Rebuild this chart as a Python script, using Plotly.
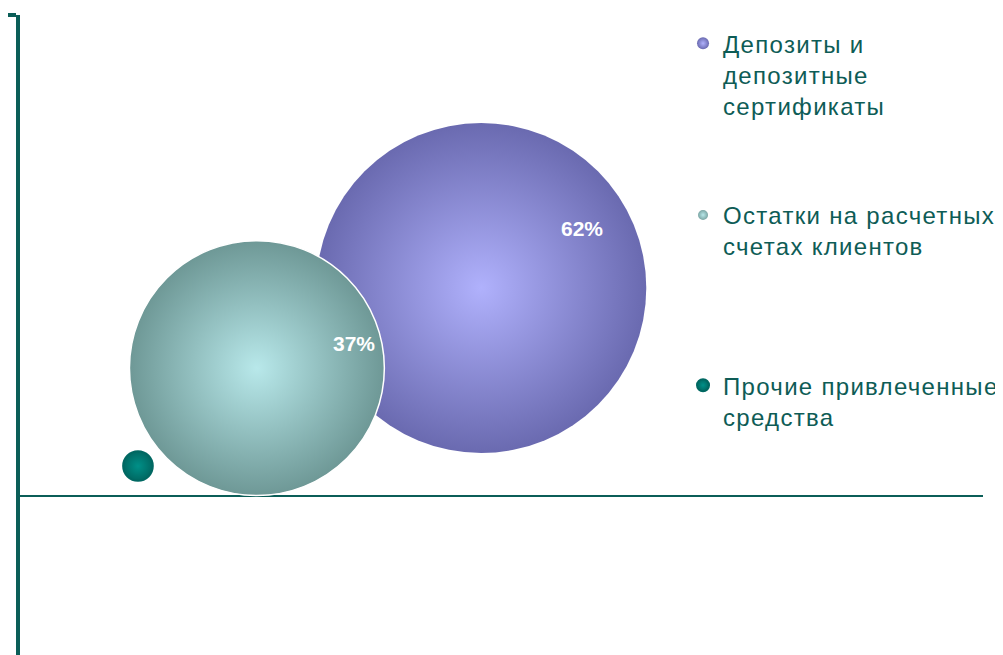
import plotly.graph_objects as go

# ---- data ----
series_names = ["Депозиты и<br>депозитные<br>сертификаты",
                "Остатки на расчетных<br>счетах клиентов",
                "Прочие привлеченные<br>средства"]
x_values = [47.9, 24.6, 12.25]
y_values = [43.25, 26.6, 6.25]
share_values = [62, 37, 0.5]
share_labels = ["62%", "37%", ""]

# ---- style ----
FONT = "Liberation Sans, Arial, sans-serif"
AXIS_COLOR = "#0B5E58"
TEXT_COLOR = "#0E5C56"
centre_colors = ["#B0B1FC", "#B8E8EA", "#009088"]
edge_colors = ["#6A6AB0", "#6E9896", "#006862"]
line_colors = ["rgba(255,255,255,0)", "#FFFFFF", "#006862"]
line_widths = [0, 1.5, 2]
legend_ids = ["legend", "legend2", "legend3"]
label_shift = [(101, 60), (97, 25), (0, 0)]
MAX_DIAMETER = 330
SIZEREF = 2 * max(share_values) / MAX_DIAMETER ** 2


def spaced(txt):
    return "<br>".join(
        '<span style="letter-spacing:1.3px">' + part + "</span>"
        for part in txt.split("<br>"))


fig = go.Figure()
for i in range(3):
    fig.add_trace(go.Scatter(
        x=[x_values[i]], y=[y_values[i]],
        mode="markers",
        name=spaced(series_names[i]),
        legend=legend_ids[i],
        marker=dict(
            size=[share_values[i]], sizemode="area", sizeref=SIZEREF,
            color=edge_colors[i],
            gradient=dict(type="radial", color=centre_colors[i]),
            line=dict(color=line_colors[i], width=line_widths[i]),
            opacity=1,
        ),
        hoverinfo="skip",
    ))
    if share_labels[i]:
        fig.add_annotation(
            x=x_values[i], y=y_values[i], text=share_labels[i],
            showarrow=False, xshift=label_shift[i][0], yshift=label_shift[i][1],
            font=dict(family=FONT, size=21, color="white", weight="bold"),
        )

legend_common = dict(
    font=dict(family=FONT, size=24, color=TEXT_COLOR),
    bgcolor="rgba(0,0,0,0)", borderwidth=0,
    xanchor="left", yanchor="top", valign="top",
    itemsizing="constant", itemclick=False,
)
fig.update_layout(
    legend=dict(x=0.6885, y=0.9904, **legend_common),
    legend2=dict(x=0.6885, y=0.7256, **legend_common),
    legend3=dict(x=0.6885, y=0.4628, **legend_common),
)

fig.update_layout(
    width=1003, height=655,
    margin=dict(l=12, r=28, t=7, b=0),
    plot_bgcolor="white", paper_bgcolor="white",
    showlegend=True,
    font=dict(family=FONT),
    xaxis=dict(range=[0, 100], visible=False, showgrid=False, zeroline=False,
               automargin=False),
    yaxis=dict(
        range=[-34.7, 100], showgrid=False, automargin=False,
        zeroline=True, zerolinecolor=AXIS_COLOR, zerolinewidth=2,
        showline=True, linecolor=AXIS_COLOR, linewidth=4,
        ticks="outside", tickvals=[100], ticklen=8, tickwidth=4,
        tickcolor=AXIS_COLOR, showticklabels=False,
    ),
)

fig.write_html("out.html")
